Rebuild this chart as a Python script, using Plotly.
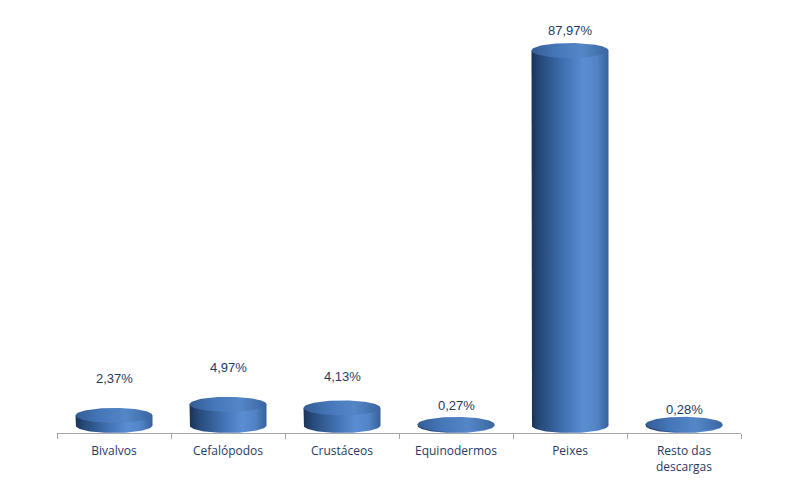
import numpy as np
import plotly.graph_objects as go

categories = ["Bivalvos", "Cefalópodos", "Crustáceos", "Equinodermos", "Peixes", "Resto das<br>descargas"]
values = [2.37, 4.97, 4.13, 0.27, 87.97, 0.28]
value_labels = ["2,37%", "4,97%", "4,13%", "0,27%", "87,97%", "0,28%"]

# style: vertical pixel offsets of the value labels above each cylinder top
label_shift = [37, 37, 31, 19, 20, 15]

PX_PER_UNIT = 4.263
RY = 7.5 / PX_PER_UNIT        # ellipse half-height in data units
RX = 38.5 / 114.0             # ellipse half-width in category units
Y_MIN = -RY
Y_MAX = (425.5 - 20) / PX_PER_UNIT

body_scale = [[0, "#1a3358"], [0.12, "#264a7a"], [0.4, "#3f6eae"],
              [0.68, "#5a8ed3"], [0.85, "#5283c4"], [1, "#37629b"]]
top_scale = [[0, "#335d95"], [0.3, "#4475b6"], [0.65, "#5587c8"], [1, "#3a66a0"]]

fig = go.Figure()
t_front = np.linspace(np.pi, 2 * np.pi, 60)
t_full = np.linspace(0, 2 * np.pi, 120)
for i, v in enumerate(values):
    cx = i
    bx = list(cx + RX * np.cos(t_front))
    by = list(RY * np.sin(t_front))
    xs = [cx - RX] + bx + [cx + RX, cx - RX]
    ys = [v] + by + [v, v]
    fig.add_trace(go.Scatter(
        x=xs, y=ys, mode="lines", fill="toself",
        line=dict(width=0, color="rgba(0,0,0,0)"),
        fillgradient=dict(type="horizontal", colorscale=body_scale),
        hoverinfo="skip", showlegend=False))
    fig.add_trace(go.Scatter(
        x=list(cx + RX * np.cos(t_full)), y=list(v + RY * np.sin(t_full)),
        mode="lines", fill="toself",
        line=dict(width=0, color="rgba(0,0,0,0)"),
        fillgradient=dict(type="horizontal", colorscale=top_scale),
        hoverinfo="skip", showlegend=False))
    fig.add_annotation(x=cx, y=v, text=value_labels[i], showarrow=False,
                       yshift=label_shift[i], yanchor="middle",
                       font=dict(family="Liberation Sans, Arial", size=13, color="#1f3a63"))

fig.update_layout(
    width=800, height=488,
    margin=dict(l=57, r=59, t=20, b=55),
    paper_bgcolor="white", plot_bgcolor="white",
    xaxis=dict(range=[-0.5, 5.5], tickmode="array", tickvals=list(range(len(categories))),
               ticktext=categories, ticks="", showgrid=False, zeroline=False,
               showline=True, linecolor="#a6a6a6", linewidth=1, automargin=False,
               ticklabelstandoff=7,
               tickfont=dict(family="Open Sans, Liberation Sans", size=12, color="#1f3a63"),
               minor=dict(tickmode="linear", tick0=-0.5, dtick=1, ticks="outside",
                          ticklen=5, tickcolor="#a6a6a6", showgrid=False)),
    yaxis=dict(range=[Y_MIN, Y_MAX], visible=False, showgrid=False, zeroline=False),
)

fig.write_html("out.html", config={"displayModeBar": False},
               post_script="document.body.style.margin='0px';document.body.style.overflow='hidden';")
